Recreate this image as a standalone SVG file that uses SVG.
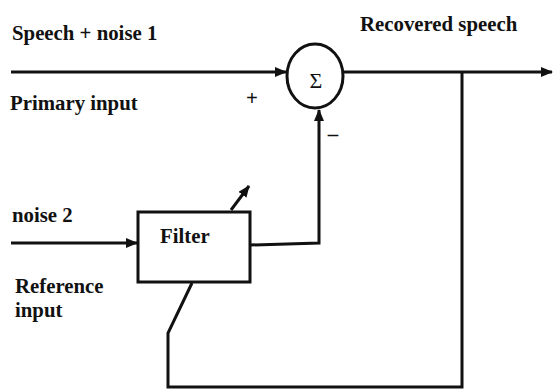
<svg xmlns="http://www.w3.org/2000/svg" width="553" height="389" viewBox="0 0 553 389">
<style>
.t{font-family:"Liberation Serif","Times New Roman",serif;font-weight:bold;font-size:20.8px;fill:#111}
.ln{fill:none;stroke:#111;stroke-width:3}
.nd{fill:#fff;stroke:#111;stroke-width:3}
</style>
<defs>
<marker id="ah" markerWidth="12" markerHeight="10" refX="11" refY="5" orient="auto" markerUnits="userSpaceOnUse">
<path d="M0,0 L12,5 L0,10 Z" fill="#111"/>
</marker>
</defs>
<rect width="553" height="389" fill="#fff"/>
<g id="connectors">
<path class="ln" d="M11,72 L286,72" marker-end="url(#ah)"/>
<path class="ln" d="M343,72 L552,72" marker-end="url(#ah)"/>
<path class="ln" d="M11,243 L137,243" marker-end="url(#ah)"/>
<path class="ln" d="M250,245 L319,243 L319,110" marker-end="url(#ah)"/>
<path class="ln" d="M462,72 L462,387 L168,387 L168,333 L192,283"/>
<path class="ln" d="M231,210 L249,186" marker-end="url(#ah)"/>
</g>
<g id="sum">
<ellipse class="nd" cx="315" cy="76" rx="28" ry="32"/>
<text x="316" y="88" text-anchor="middle" font-family="Liberation Serif, serif" font-size="22" fill="#111">Σ</text>
</g>
<g id="filter">
<rect class="nd" x="138" y="212" width="112" height="70"/>
<text class="t" x="160" y="243">Filter</text>
</g>
<g id="labels">
<text class="t" x="12" y="40">Speech + noise 1</text>
<text class="t" x="10" y="110">Primary input</text>
<text class="t" x="252" y="105" text-anchor="middle">+</text>
<text class="t" x="333" y="141" text-anchor="middle">–</text>
<text class="t" x="360" y="31">Recovered speech</text>
<text class="t" x="12" y="222">noise 2</text>
<text class="t" x="15" y="293">Reference</text>
<text class="t" x="15" y="317">input</text>
</g>
</svg>
